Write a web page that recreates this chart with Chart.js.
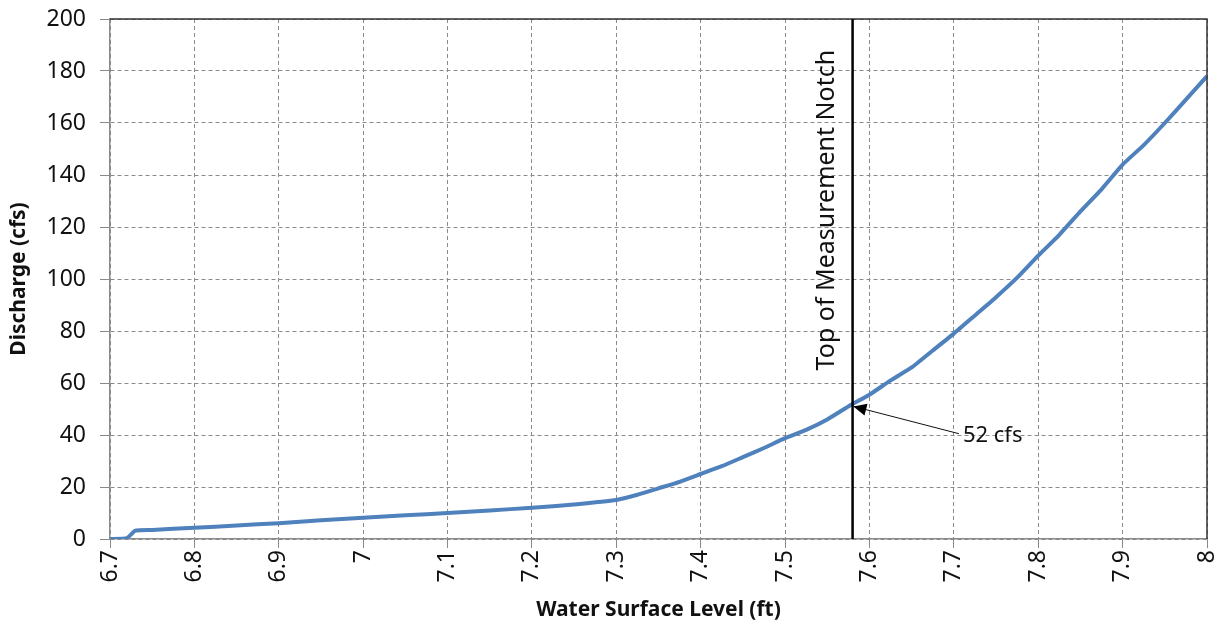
<!DOCTYPE html>
<html lang="en">
<head>
<meta charset="UTF-8">
<title>Discharge vs Water Surface Level</title>
<script src="https://cdn.jsdelivr.net/npm/chart.js@4"></script>
<style>
html,body{margin:0;padding:0;background:#fff}
#wrap{width:1225px;height:629px;position:relative}
</style>
</head>
<body>
<div id="wrap"><canvas id="chart"></canvas></div>
<script>
// water surface level (ft) and discharge (cfs)
const levels = [6.7, 6.72, 6.73, 6.75, 6.8, 6.85, 6.9, 6.95, 7.0, 7.05, 7.1, 7.15, 7.2, 7.25, 7.3,
  7.325, 7.35, 7.375, 7.4, 7.425, 7.45, 7.475, 7.5, 7.525, 7.55, 7.575, 7.6, 7.625, 7.65, 7.675, 7.7,
  7.725, 7.75, 7.775, 7.8, 7.825, 7.85, 7.875, 7.9, 7.925, 7.95, 7.975, 8.0];
const discharge = [0, 0.3, 3.2, 3.5, 4.3, 5.2, 6.1, 7.2, 8.2, 9.1, 10, 11, 12, 13.3, 15,
  17, 19.5, 22, 25, 28, 31.5, 35, 38.8, 42, 46, 51, 55.5, 61, 66, 72.5, 79,
  86, 93, 100.5, 109, 117, 126, 134.5, 144, 151.5, 160, 169, 178];
const xTicks = [6.7, 6.8, 6.9, 7.0, 7.1, 7.2, 7.3, 7.4, 7.5, 7.6, 7.7, 7.8, 7.9, 8.0];
const yTicks = [0, 20, 40, 60, 80, 100, 120, 140, 160, 180, 200];
const notchLevel = 7.58;
const notchLabel = 'Top of Measurement Notch';
const notchFlow = 51;
const flowLabel = '52 cfs';

const FONT = '"Noto Sans", sans-serif';

const notchPlugin = {
  id: 'notch',
  afterDatasetsDraw(chart) {
    const {ctx, chartArea: a, scales: {x, y}} = chart;
    ctx.save();
    // frame top/right
    ctx.strokeStyle = '#333';
    ctx.lineWidth = 1.5;
    ctx.beginPath();
    ctx.moveTo(a.left, a.top); ctx.lineTo(a.right, a.top); ctx.lineTo(a.right, a.bottom);
    ctx.stroke();
    // vertical notch line
    const nx = x.getPixelForValue(notchLevel);
    ctx.strokeStyle = '#000';
    ctx.lineWidth = 2.5;
    ctx.beginPath();
    ctx.moveTo(nx, a.top); ctx.lineTo(nx, a.bottom);
    ctx.stroke();
    // rotated label
    ctx.fillStyle = '#111';
    ctx.font = '25px ' + FONT;
    ctx.textAlign = 'center';
    ctx.textBaseline = 'middle';
    ctx.translate(x.getPixelForValue(7.55), y.getPixelForValue(126.5));
    ctx.rotate(-Math.PI / 2);
    ctx.fillText(notchLabel, 0, 0);
    ctx.restore();

    // arrow + callout
    ctx.save();
    const sx = x.getPixelForValue(7.706), sy = y.getPixelForValue(40.5);
    const tx = x.getPixelForValue(7.581), ty = y.getPixelForValue(notchFlow);
    ctx.strokeStyle = '#111';
    ctx.fillStyle = '#000';
    ctx.lineWidth = 1;
    ctx.beginPath();
    ctx.moveTo(sx, sy); ctx.lineTo(tx, ty);
    ctx.stroke();
    const ang = Math.atan2(ty - sy, tx - sx);
    const L = 13, W = 6;
    ctx.beginPath();
    ctx.moveTo(tx, ty);
    ctx.lineTo(tx - L * Math.cos(ang) + W * Math.sin(ang), ty - L * Math.sin(ang) - W * Math.cos(ang));
    ctx.lineTo(tx - L * Math.cos(ang) - W * Math.sin(ang), ty - L * Math.sin(ang) + W * Math.cos(ang));
    ctx.closePath();
    ctx.fill();
    ctx.font = '22px ' + FONT;
    ctx.textAlign = 'left';
    ctx.textBaseline = 'middle';
    ctx.fillStyle = '#111';
    ctx.fillText(flowLabel, sx + 4, sy + 2);
    ctx.restore();
  }
};

const tickFont = {family: FONT, size: 23};
const titleFont = {family: FONT, size: 21, weight: 'bold'};

new Chart(document.getElementById('chart'), {
  type: 'line',
  data: {
    datasets: [{
      data: levels.map((v, i) => ({x: v, y: discharge[i]})),
      borderColor: '#4f81bd',
      borderWidth: 4,
      pointRadius: 0,
      tension: 0.15,
      fill: false
    }]
  },
  options: {
    responsive: true,
    maintainAspectRatio: false,
    animation: false,
    layout: {padding: {left: 0, right: 18, top: 19, bottom: 0}},
    plugins: {legend: {display: false}, tooltip: {enabled: false}},
    scales: {
      x: {
        type: 'linear',
        min: 6.7, max: 8.0,
        afterBuildTicks: s => { s.ticks = xTicks.map(v => ({value: v})); },
        afterFit: s => { s.height = 90; s.paddingLeft = 0; s.paddingRight = 0; },
        ticks: {
          color: '#111', font: tickFont, minRotation: 90, maxRotation: 90, padding: 2,
          callback: v => String(+v.toFixed(1))
        },
        grid: {color: '#8a8a8a', lineWidth: 1, tickLength: 9, tickColor: '#8a8a8a'},
        border: {display: true, color: '#8a8a8a', width: 1.5, dash: [4, 3]},
        title: {display: true, text: 'Water Surface Level (ft)', color: '#111', font: titleFont, padding: {top: 0, bottom: 6}}
      },
      y: {
        min: 0, max: 200,
        afterBuildTicks: s => { s.ticks = yTicks.map(v => ({value: v})); },
        afterFit: s => { s.width = 110; s.paddingTop = 0; s.paddingBottom = 0; },
        ticks: {color: '#111', font: tickFont, padding: 14},
        grid: {color: '#8a8a8a', lineWidth: 1, tickLength: 10, tickColor: '#8a8a8a'},
        border: {display: true, color: '#8a8a8a', width: 1.5, dash: [4, 3]},
        title: {display: true, text: 'Discharge (cfs)', color: '#111', font: titleFont, padding: {top: 6, bottom: 0}}
      }
    }
  },
  plugins: [notchPlugin]
});
</script>
</body>
</html>
